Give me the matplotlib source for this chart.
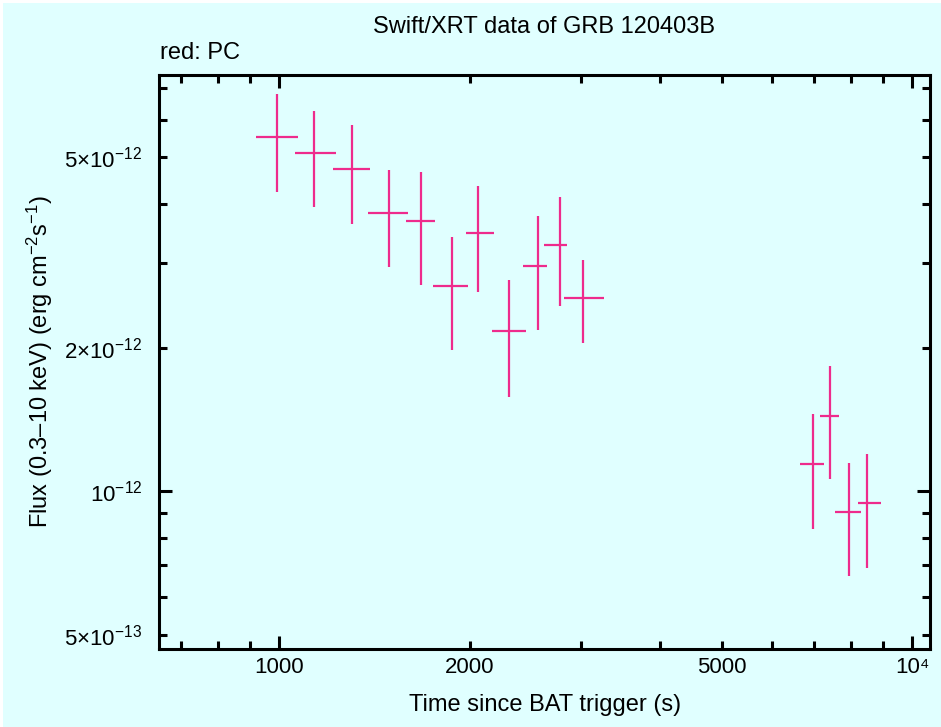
import numpy as np
import matplotlib
matplotlib.use("Agg")
import matplotlib.pyplot as plt
from matplotlib.patches import Rectangle
from matplotlib.ticker import FixedLocator, FuncFormatter

plt.rcParams['font.family'] = ['Liberation Sans', 'DejaVu Sans']
plt.rcParams['mathtext.fontset'] = 'custom'
plt.rcParams['mathtext.rm'] = 'Liberation Sans'
plt.rcParams['mathtext.it'] = 'Liberation Sans'

# PC mode points (time in s, flux in erg/cm2/s)
t = [993, 1136, 1304, 1492, 1675, 1873, 2063, 2307, 2567, 2778, 3024, 6982, 7429, 7961, 8500]
t_lo = [918, 1059, 1217, 1380, 1586, 1748, 1971, 2166, 2430, 2618, 2818, 6645, 7154, 7566, 8217]
t_hi = [1069, 1228, 1391, 1599, 1762, 1989, 2182, 2452, 2652, 2846, 3256, 7251, 7676, 8296, 8944]
flux = [5.51, 5.10, 4.73, 3.82, 3.68, 2.69, 3.48, 2.17, 2.97, 3.28, 2.54, 1.14, 1.44, 0.905, 0.945]
flux_lo = [4.23, 3.94, 3.63, 2.95, 2.71, 1.98, 2.62, 1.58, 2.18, 2.44, 2.04, 0.836, 1.06, 0.665, 0.691]
flux_hi = [6.78, 6.27, 5.86, 4.70, 4.67, 3.41, 4.36, 2.77, 3.77, 4.13, 3.05, 1.45, 1.83, 1.147, 1.20]

x_labels = {1000: '1000', 2000: '2000', 5000: '5000', 10000: '10⁴'}
y_labels = {5e-13: r'$5{\times}10^{-13}$', 1e-12: r'$10^{-12}$',
            2e-12: r'$2{\times}10^{-12}$', 5e-12: r'$5{\times}10^{-12}$'}

bg = '#e0ffff'
col = '#ee2b8c'

t = np.array(t)
fl = np.array(flux) * 1e-12
flo = np.array(flux_lo) * 1e-12
fhi = np.array(flux_hi) * 1e-12

fig = plt.figure(figsize=(9.41, 7.27), dpi=100)
fig.patch.set_facecolor('white')
fig.patches.append(Rectangle((3 / 941, 0), 1, 1 - 3 / 727, transform=fig.transFigure,
                             facecolor=bg, edgecolor='none', zorder=-10))

ax = fig.add_axes([159 / 941, 1 - 649 / 727, (930 - 159) / 941, (649 - 75) / 727])
ax.set_facecolor(bg)
ax.set_xscale('log')
ax.set_yscale('log')

ax.errorbar(t, fl, xerr=[t - np.array(t_lo), np.array(t_hi) - t],
            yerr=[fl - flo, fhi - fl], fmt='none', ecolor=col, elinewidth=1.6, capsize=0)

ax.set_xlim(645.6, 10676)
ax.set_ylim(4.68e-13, 7.44e-12)


def lab(table):
    def f(v, p):
        for k, s in table.items():
            if abs(v - k) / k < 1e-3:
                return s
        return ''
    return FuncFormatter(f)


# long ticks at decades, short ones elsewhere (some of them labelled)
ax.xaxis.set_major_locator(FixedLocator([1000, 10000]))
ax.xaxis.set_major_formatter(lab(x_labels))
ax.xaxis.set_minor_locator(FixedLocator([700, 800, 900, 2000, 3000, 4000, 5000, 6000, 7000, 8000, 9000]))
ax.xaxis.set_minor_formatter(lab(x_labels))

ax.yaxis.set_major_locator(FixedLocator([1e-12]))
ax.yaxis.set_major_formatter(lab(y_labels))
ax.yaxis.set_minor_locator(FixedLocator([5e-13, 6e-13, 7e-13, 8e-13, 9e-13,
                                         2e-12, 3e-12, 4e-12, 5e-12, 6e-12, 7e-12]))
ax.yaxis.set_minor_formatter(lab(y_labels))

ax.tick_params(which='both', direction='in', top=True, right=True, width=2.2,
               labelsize=16, colors='black')
ax.tick_params(which='major', length=9.5)
ax.tick_params(which='minor', length=5.5)
ax.tick_params(axis='x', which='both', pad=6)
ax.tick_params(axis='y', which='both', pad=12)
for s in ax.spines.values():
    s.set_linewidth(2.2)

fig.text(544 / 941, 1 - 27 / 727, 'Swift/XRT data of GRB 120403B', ha='center', va='center', fontsize=17)
fig.text(160 / 941, 1 - 53 / 727, 'red: PC', ha='left', va='center', fontsize=17)
fig.text(545 / 941, 1 - 705 / 727, 'Time since BAT trigger (s)', ha='center', va='center', fontsize=17)
fig.text(40 / 941, 1 - 362 / 727, r'Flux (0.3–10 keV) (erg cm$^{-2}$s$^{-1}$)',
         ha='center', va='center', rotation=90, fontsize=17)

fig.savefig('out.png', dpi=100, facecolor=fig.get_facecolor())
